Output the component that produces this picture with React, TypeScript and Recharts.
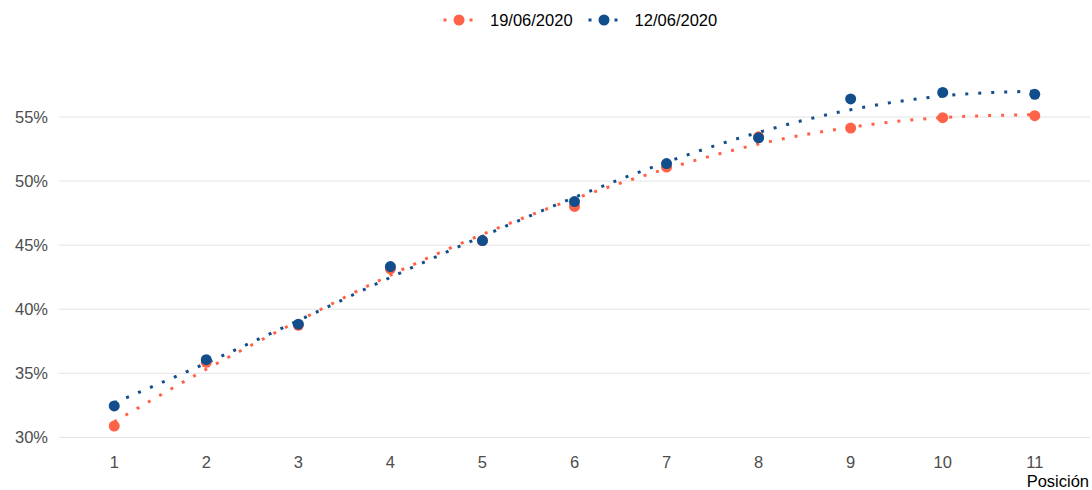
import React from 'react';
import { ComposedChart, Line, XAxis, YAxis, ReferenceLine } from 'recharts';

const positions = [1, 2, 3, 4, 5, 6, 7, 8, 9, 10, 11];
const series19 = [30.88, 35.86, 38.75, 43.15, 45.36, 48.02, 51.09, 53.45, 54.14, 54.95, 55.1];
const series12 = [32.45, 36.06, 38.83, 43.33, 45.36, 48.4, 51.37, 53.38, 56.41, 56.92, 56.77];
const fit19 = [31.21, 35.32, 39.09, 42.66, 45.84, 48.62, 50.96, 52.89, 54.2, 54.96, 55.18];
const fit12 = [32.69, 35.8, 39.11, 42.48, 45.69, 48.73, 51.48, 53.8, 55.57, 56.64, 57.02];
const yTicks = [30, 35, 40, 45, 50, 55];
const legendLabels = ['19/06/2020', '12/06/2020'];
const xLabel = 'Posición';

const ORANGE = '#FF6347';
const BLUE = '#124D8C';
const FONT = '"Liberation Sans", Arial, sans-serif';

const data = positions.map((p, i) => ({
  pos: p,
  s19: series19[i],
  s12: series12[i],
  f19: fit19[i],
  f12: fit12[i],
}));

const LegendBlock = () => {
  const items = [
    { label: legendLabels[0], color: ORANGE },
    { label: legendLabels[1], color: BLUE },
  ];
  return (
    <div
      style={{
        position: 'absolute',
        top: 10,
        left: 439,
        display: 'flex',
        alignItems: 'center',
        fontFamily: FONT,
        fontSize: 16.5,
        color: '#000',
        zIndex: 2,
      }}
    >
      {items.map((it, i) => (
        <div key={i} style={{ display: 'flex', alignItems: 'center', marginRight: 11 }}>
          <svg width={40} height={20} style={{ display: 'block' }}>
            <rect x={4.5} y={8.5} width={3} height={3} fill={it.color} />
            <circle cx={20} cy={10} r={5.5} fill={it.color} />
            <rect x={30.5} y={8.5} width={3} height={3} fill={it.color} />
          </svg>
          <span style={{ marginLeft: 11, lineHeight: '20px' }}>{it.label}</span>
        </div>
      ))}
    </div>
  );
};

const XLabel = (props: any) => {
  const vb = props.viewBox || { x: 0, y: 0, width: 0, height: 0 };
  return (
    <text x={vb.x + vb.width - 1} y={487} textAnchor="end" fontFamily={FONT} fontSize={16.5} fill="#000">
      {xLabel}
    </text>
  );
};

export default function App() {
  return (
    <div style={{ position: 'absolute', left: 0, top: 0, width: 1092, height: 490, background: '#fff' }}>
      <LegendBlock />
      <ComposedChart width={1092} height={490} data={data} margin={{ top: 76, right: 2, bottom: 17, left: 0 }}>
        <XAxis
          dataKey="pos"
          type="number"
          domain={[0.4, 11.6]}
          ticks={positions}
          axisLine={false}
          tickLine={false}
          tickSize={0}
          tickMargin={13}
          height={30}
          interval={0}
          tick={{ fill: '#4D4D4D', fontSize: 16.5, fontFamily: FONT }}
          label={<XLabel />}
        />
        <YAxis
          type="number"
          domain={[29.56, 58.2]}
          ticks={yTicks}
          width={59}
          axisLine={false}
          tickLine={false}
          tickSize={0}
          tickMargin={11}
          allowDataOverflow
          tickFormatter={(v: number) => `${v}%`}
          tick={{ fill: '#4D4D4D', fontSize: 16.5, fontFamily: FONT }}
        />
        {yTicks.map((t) => (
          <ReferenceLine key={t} y={t} stroke="#E3E3E3" strokeWidth={1} ifOverflow="visible" />
        ))}
        <Line
          dataKey="s19"
          stroke="none"
          dot={{ r: 5.5, fill: ORANGE, stroke: 'none' }}
          activeDot={false}
          isAnimationActive={false}
          legendType="none"
        />
        <Line
          dataKey="s12"
          stroke="none"
          dot={{ r: 5.5, fill: BLUE, stroke: 'none' }}
          activeDot={false}
          isAnimationActive={false}
          legendType="none"
        />
        <Line
          dataKey="f19"
          type="monotone"
          stroke={ORANGE}
          strokeWidth={3}
          strokeDasharray="3 10"
          dot={false}
          activeDot={false}
          isAnimationActive={false}
          legendType="none"
        />
        <Line
          dataKey="f12"
          type="monotone"
          stroke={BLUE}
          strokeWidth={3}
          strokeDasharray="3 10"
          dot={false}
          activeDot={false}
          isAnimationActive={false}
          legendType="none"
        />
      </ComposedChart>
    </div>
  );
}
